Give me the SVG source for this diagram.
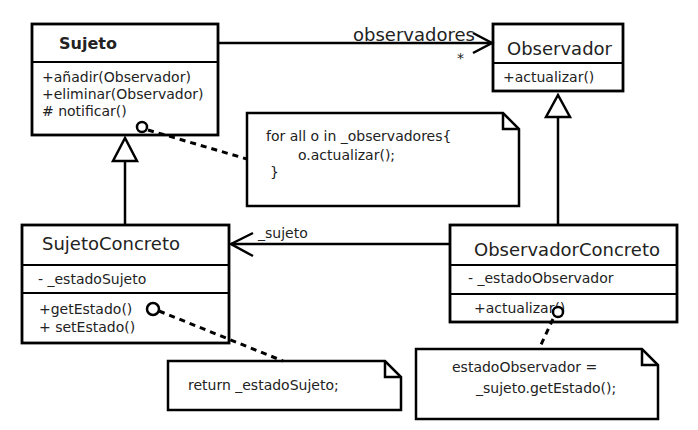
<svg xmlns="http://www.w3.org/2000/svg" width="698" height="430" viewBox="0 0 698 430">
<defs>
<style>
.box{fill:#fff;stroke:#000;stroke-width:2.8}
.sep{stroke:#000;stroke-width:2.2}
.t{font-family:"DejaVu Sans",sans-serif;fill:#222}
.h{font-size:18px}
.hb{font-size:16px;font-weight:bold}
.m{font-size:14px}
.line{stroke:#000;stroke-width:2.5;fill:none}
.dash{stroke:#000;stroke-width:3;fill:none;stroke-dasharray:6 5}
.tri{fill:#fff;stroke:#000;stroke-width:2.5}
.pin{fill:#fff;stroke:#000;stroke-width:2.5}
.note{fill:#fff;stroke:#000;stroke-width:2.5}
</style>
</defs>
<rect width="698" height="430" fill="#fff"/>

<g id="Sujeto">
  <rect class="box" x="32" y="24" width="186" height="111"/>
  <line class="sep" x1="32" y1="62" x2="218" y2="62"/>
  <text class="t hb" x="59" y="49">Sujeto</text>
  <text class="t m" x="42" y="82">+añadir(Observador)</text>
  <text class="t m" x="42" y="99">+eliminar(Observador)</text>
  <text class="t m" x="42" y="116"># notificar()</text>
</g>

<g id="Observador">
  <rect class="box" x="493" y="24" width="130" height="67"/>
  <line class="sep" x1="493" y1="63" x2="623" y2="63"/>
  <text class="t h" x="507" y="55">Observador</text>
  <text class="t m" x="503" y="82">+actualizar()</text>
</g>

<g id="SujetoConcreto">
  <rect class="box" x="22" y="225" width="207" height="118"/>
  <line class="sep" x1="22" y1="265" x2="229" y2="265"/>
  <line class="sep" x1="22" y1="293" x2="229" y2="293"/>
  <text class="t h" x="42" y="250">SujetoConcreto</text>
  <text class="t m" x="38" y="284">- _estadoSujeto</text>
  <text class="t m" x="39" y="314">+getEstado()</text>
  <text class="t m" x="39" y="332">+ setEstado()</text>
</g>

<g id="ObservadorConcreto">
  <rect class="box" x="450" y="225" width="227" height="97"/>
  <line class="sep" x1="450" y1="265" x2="677" y2="265"/>
  <line class="sep" x1="450" y1="294" x2="677" y2="294"/>
  <text class="t h" x="474" y="256">ObservadorConcreto</text>
  <text class="t m" x="468" y="283">- _estadoObservador</text>
  <text class="t m" x="474" y="313">+actualizar()</text>
</g>

<g id="nota1">
  <path class="note" d="M247,113 H503 L519,129 V206 H247 Z"/>
  <path class="line" d="M503,113 V129 H519"/>
  <text class="t m" x="266" y="141">for all o in _observadores{</text>
  <text class="t m" x="298" y="160">o.actualizar();</text>
  <text class="t m" x="270" y="177">}</text>
</g>

<g id="nota2">
  <path class="note" d="M168,361 H385 L401,377 V410 H168 Z"/>
  <path class="line" d="M385,361 V377 H401"/>
  <text class="t m" x="188" y="390">return _estadoSujeto;</text>
</g>

<g id="nota3">
  <path class="note" d="M416,349 H642 L658,365 V419 H416 Z"/>
  <path class="line" d="M642,349 V365 H658"/>
  <text class="t m" x="452" y="372">estadoObservador =</text>
  <text class="t m" x="476" y="393">_sujeto.getEstado();</text>
</g>

<g id="connectors">
  <line class="line" x1="218" y1="43" x2="492" y2="43"/>
  <polyline class="line" points="473,33 492,43 473,53"/>
  <text class="t h" x="353" y="41">observadores</text>
  <text class="t m" x="457" y="63">*</text>

  <line class="line" x1="558" y1="117" x2="558" y2="225"/>
  <polygon class="tri" points="558,95 546,117 570,117"/>

  <line class="line" x1="125" y1="161" x2="125" y2="225"/>
  <polygon class="tri" points="125,138 113,161 137,161"/>

  <line class="line" x1="450" y1="244" x2="231" y2="244"/>
  <polyline class="line" points="253,233 231,244 253,256"/>
  <text class="t m" x="258" y="238">_sujeto</text>

  <line class="dash" x1="148" y1="130" x2="247" y2="159"/>
  <line class="dash" x1="159" y1="311" x2="283" y2="361"/>
  <line class="dash" x1="553" y1="319" x2="539" y2="349"/>

  <circle class="pin" cx="142" cy="127" r="5"/>
  <circle class="pin" cx="153" cy="309" r="6"/>
  <circle class="pin" cx="558" cy="312" r="5"/>
</g>
</svg>
